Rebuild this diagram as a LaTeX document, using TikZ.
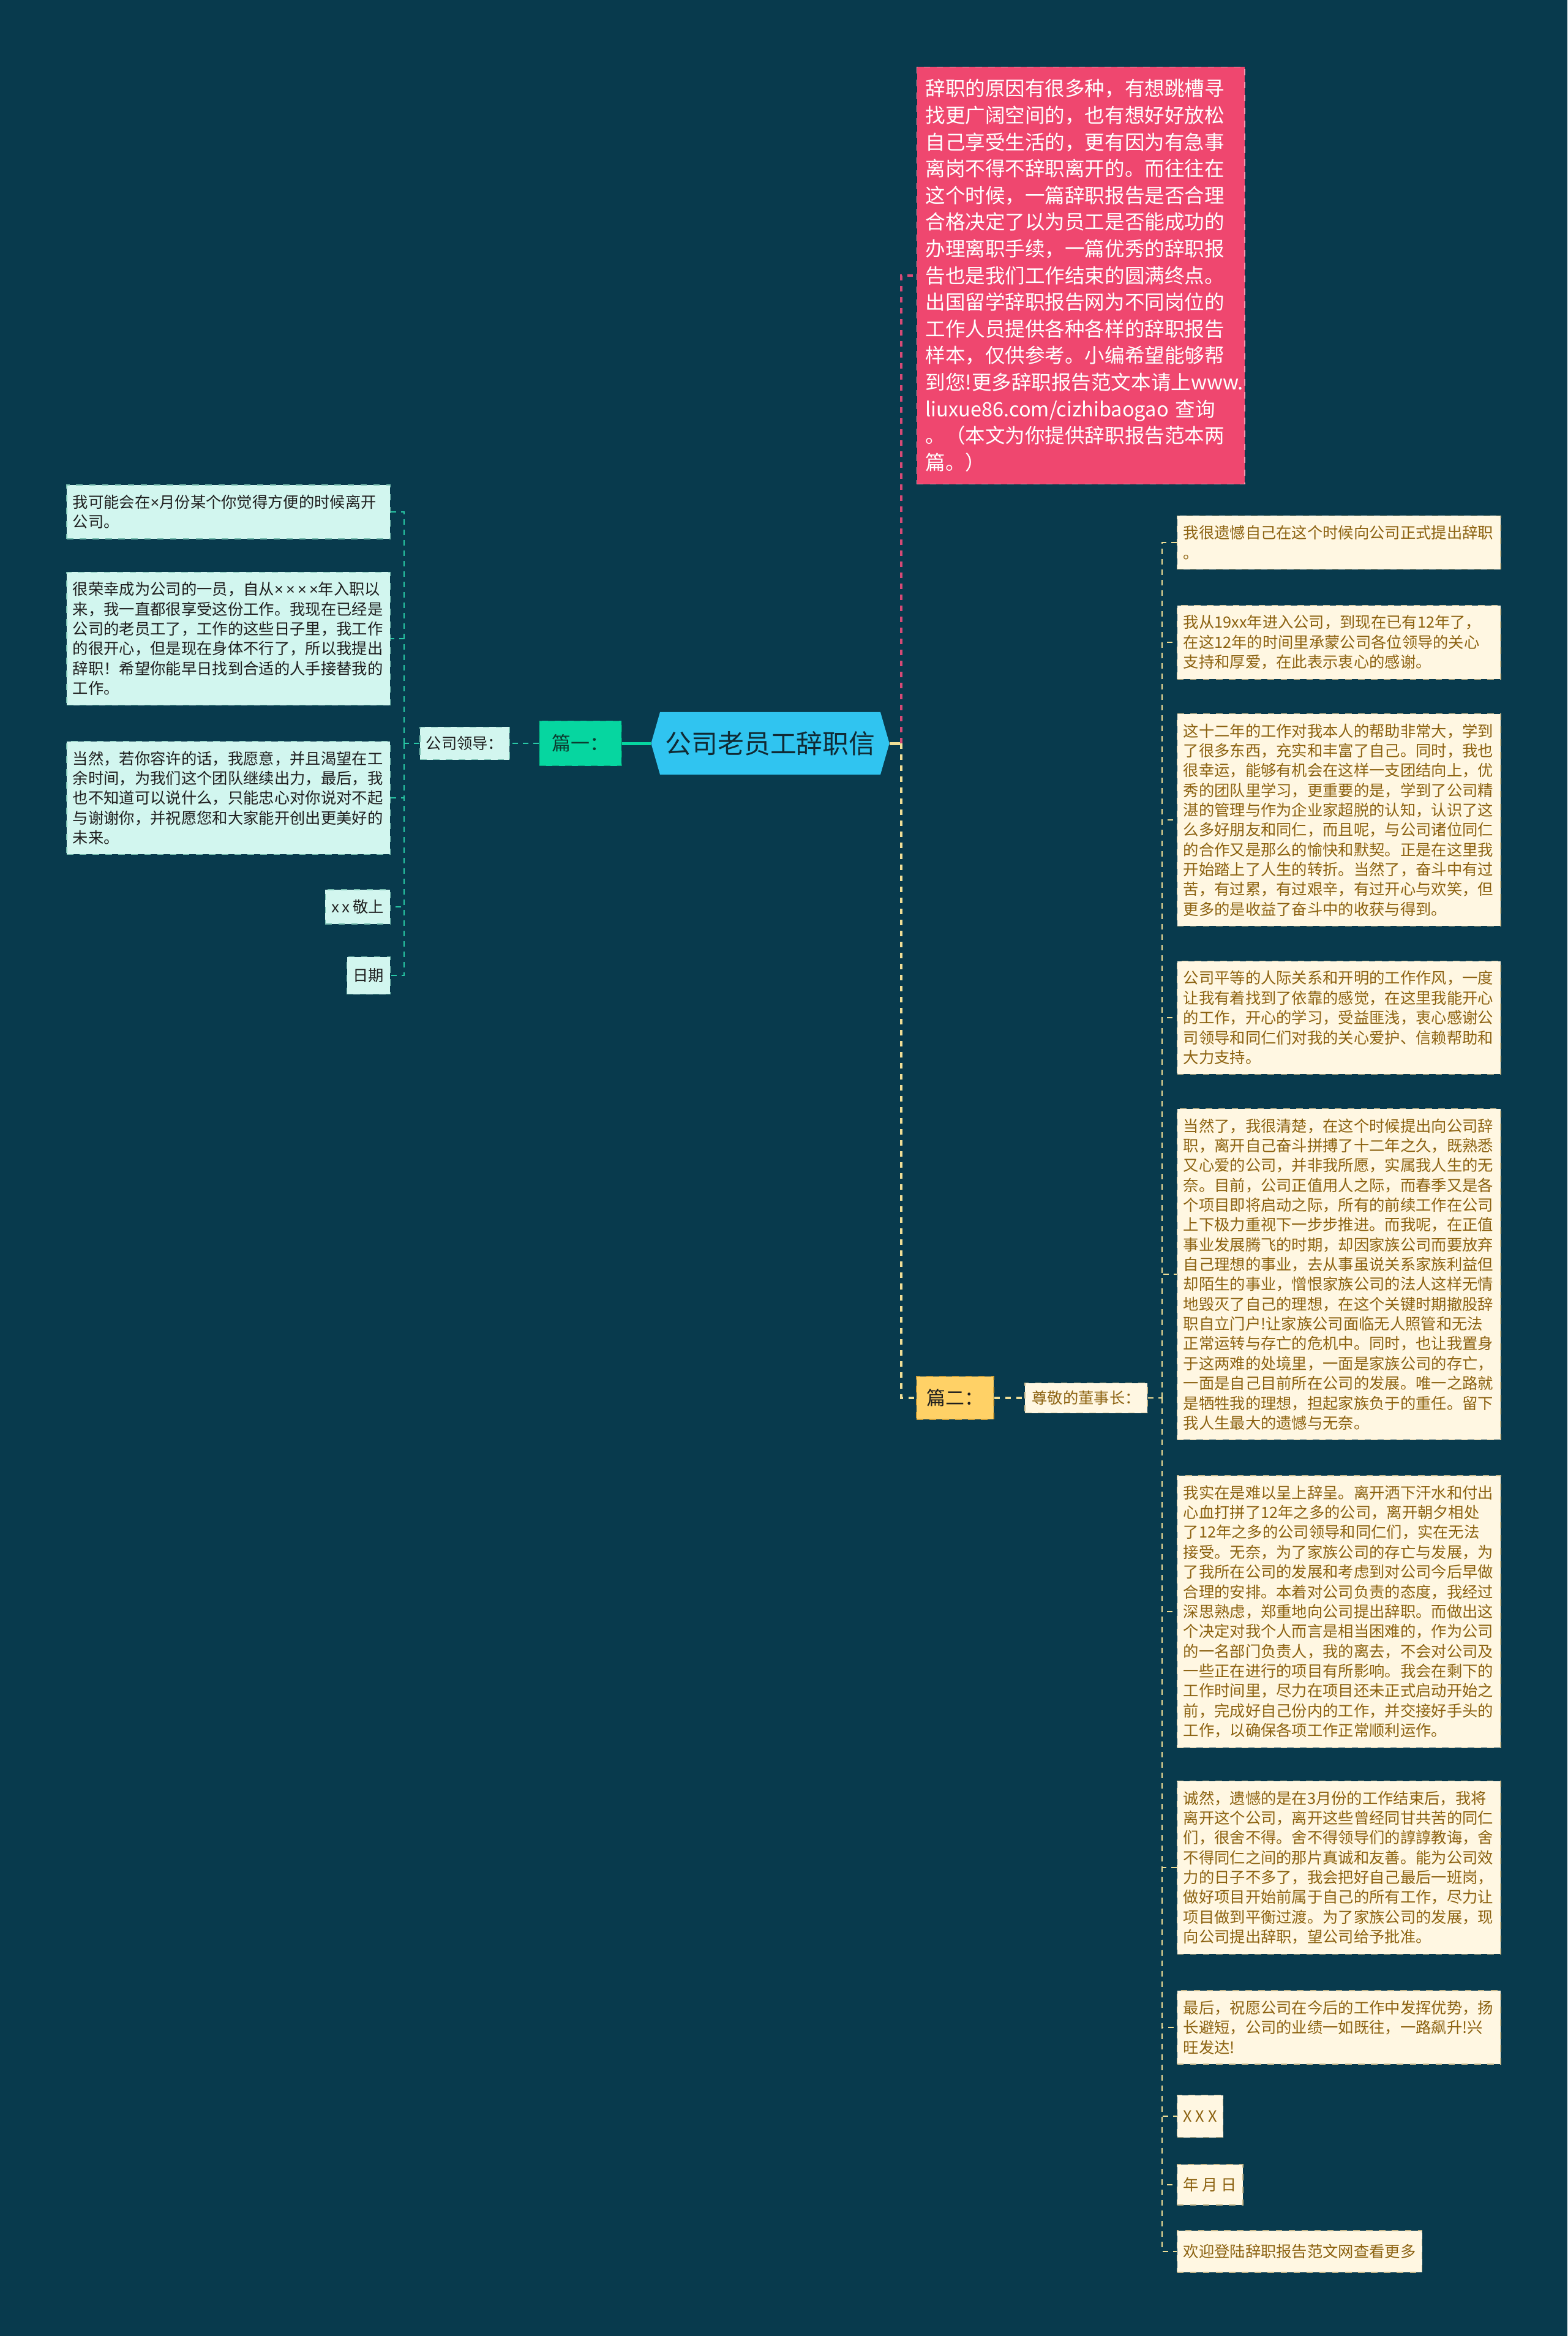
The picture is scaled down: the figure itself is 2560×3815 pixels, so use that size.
\documentclass[tikz,border=0pt]{standalone}
\usepackage{fontspec}
\newfontfamily\cjk{Noto Sans CJK SC}
\newfontfamily\xfont{Liberation Sans}
\usepackage{tikz}
\usetikzlibrary{shapes.symbols}

\definecolor{bgteal}{RGB}{8,58,77}
\definecolor{titleblue}{RGB}{48,196,240}
\definecolor{titletext}{RGB}{16,42,52}
\definecolor{introfill}{RGB}{239,71,111}
\definecolor{introedge}{RGB}{250,150,175}
\definecolor{introline}{RGB}{214,74,118}
\definecolor{onefill}{RGB}{6,214,160}
\definecolor{oneedge}{RGB}{4,160,120}
\definecolor{onetext}{RGB}{12,60,48}
\definecolor{mintfill}{RGB}{210,246,239}
\definecolor{mintedge}{RGB}{120,190,175}
\definecolor{mintline}{RGB}{40,200,165}
\definecolor{twofill}{RGB}{255,209,102}
\definecolor{twoedge}{RGB}{205,160,60}
\definecolor{creamfill}{RGB}{255,247,226}
\definecolor{creamedge}{RGB}{200,185,140}
\definecolor{creamline}{RGB}{240,222,150}
\definecolor{browntext}{RGB}{140,98,16}
\definecolor{darktext}{RGB}{30,30,30}

\tikzset{
  title/.style={signal, signal to=west and east, signal pointer angle=148,
    fill=titleblue, text=titletext, minimum width=3.89cm, minimum height=1.02cm,
    inner sep=0pt, font=\cjk\fontsize{12.2}{14}\selectfont},
  intro/.style={fill=introfill, draw=introedge, dashed, text=white,
    text width=5.07cm, align=left, inner xsep=0.14cm, inner ysep=0.2cm,
    font=\cjk\fontsize{9.25}{12.4}\selectfont},
  partone/.style={fill=onefill, draw=oneedge, dashed, text=onetext,
    minimum width=1.34cm, minimum height=0.73cm, inner sep=0pt,
    font=\cjk\fontsize{8.8}{10}\selectfont},
  parttwo/.style={fill=twofill, draw=twoedge, dashed, text=darktext,
    minimum width=1.26cm, minimum height=0.70cm, inner sep=0pt,
    font=\cjk\fontsize{8.8}{10}\selectfont},
  mintbox/.style={fill=mintfill, draw=mintedge, dashed, text=darktext,
    align=left, inner xsep=0.1cm, inner ysep=0.16cm,
    font=\cjk\fontsize{7.2}{9.2}\selectfont},
  creambox/.style={fill=creamfill, draw=creamedge, dashed, text=browntext,
    align=left, inner xsep=0.1cm, inner ysep=0.16cm,
    font=\cjk\fontsize{7.2}{9.2}\selectfont},
  widebox/.style={text width=5.08cm},
  tealline/.style={draw=mintline, line width=0.025cm, dash pattern=on 0.09cm off 0.08cm},
  pinkline/.style={draw=introline, line width=0.04cm, dash pattern=on 0.09cm off 0.09cm},
  yellowline/.style={draw=creamline, line width=0.04cm, dash pattern=on 0.09cm off 0.09cm},
  thinyellow/.style={draw=creamline, line width=0.025cm, dash pattern=on 0.09cm off 0.08cm},
}

\begin{document}
\begin{tikzpicture}[x=0.01cm,y=-0.01cm]
\useasboundingbox (0,0) rectangle (2560,3815);
\fill[bgteal] (0,0) rectangle (2560,3815);

% root and the two parts
\node[title] (root) at (1258,1214) {公司老员工辞职信};
\node[partone] (p1) at (948,1214) {篇一：};
\node[parttwo] (p2) at (1560,2283) {篇二：};
\coordinate (trunk) at (1472,1214);

% intro note
\node[intro, anchor=west] (intro) at (1497,450) {辞职的原因有很多种，有想跳槽寻\\
找更广阔空间的，也有想好好放松\\
自己享受生活的，更有因为有急事\\
离岗不得不辞职离开的。而往往在\\
这个时候，一篇辞职报告是否合理\\
合格决定了以为员工是否能成功的\\
办理离职手续，一篇优秀的辞职报\\
告也是我们工作结束的圆满终点。\\
出国留学辞职报告网为不同岗位的\\
工作人员提供各种各样的辞职报告\\
样本，仅供参考。小编希望能够帮\\
到您!更多辞职报告范文本请上www.\\
liuxue86.com/cizhibaogao 查询\\
。（本文为你提供辞职报告范本两\\
篇。）};

\draw[draw=creamline, line width=0.05cm] (root.east) -- (trunk);
\draw[pinkline] (trunk) |- (intro.west);
\draw[yellowline] (trunk) |- (p2.west);
\draw[draw=onefill, line width=0.05cm] (p1.east) -- (root.west);

% part one
\node[mintbox, minimum width=1.46cm, minimum height=0.53cm, inner sep=0pt] (boss) at (759,1214) {公司领导：};
\coordinate (ltrunk) at (660,1214);
\draw[tealline] (p1.west) -- (boss.east);
\draw[tealline] (boss.west) -- (ltrunk);

\node[mintbox, widebox, anchor=east] (l1) at (638,836) {我可能会在{\xfont ×}月份某个你觉得方便的时候离开\\
公司。};
\node[mintbox, widebox, anchor=east] (l2) at (638,1043) {很荣幸成为公司的一员，自从{\xfont ×\,×\,×\,×}年入职以\\
来，我一直都很享受这份工作。我现在已经是\\
公司的老员工了，工作的这些日子里，我工作\\
的很开心，但是现在身体不行了，所以我提出\\
辞职！希望你能早日找到合适的人手接替我的\\
工作。};
\node[mintbox, widebox, anchor=east] (l3) at (638,1303) {当然，若你容许的话，我愿意，并且渴望在工\\
余时间，为我们这个团队继续出力，最后，我\\
也不知道可以说什么，只能忠心对你说对不起\\
与谢谢你，并祝愿您和大家能开创出更美好的\\
未来。};
\node[mintbox, anchor=east, minimum height=0.56cm, inner ysep=0pt] (l4) at (638,1481) {{\xfont x\,x} 敬上};
\node[mintbox, anchor=east, minimum height=0.61cm, inner ysep=0pt] (l5) at (638,1593) {日期};

\foreach \i in {1,...,5}
  \draw[tealline] (ltrunk) |- (l\i.east);

% part two
\node[creambox, minimum width=2.0cm, minimum height=0.49cm, inner sep=0pt] (chair) at (1774,2283) {尊敬的董事长：};
\coordinate (rtrunk) at (1898,2283);
\draw[yellowline] (p2.east) -- (chair.west);
\draw[thinyellow] (chair.east) -- (rtrunk);

\node[creambox, widebox, anchor=west] (r1) at (1922,886) {我很遗憾自己在这个时候向公司正式提出辞职\\
。};
\node[creambox, widebox, anchor=west] (r2) at (1922,1049) {我从19xx年进入公司，到现在已有12年了，\\
在这12年的时间里承蒙公司各位领导的关心\\
支持和厚爱，在此表示衷心的感谢。};
\node[creambox, widebox, anchor=west] (r3) at (1922,1339) {这十二年的工作对我本人的帮助非常大，学到\\
了很多东西，充实和丰富了自己。同时，我也\\
很幸运，能够有机会在这样一支团结向上，优\\
秀的团队里学习，更重要的是，学到了公司精\\
湛的管理与作为企业家超脱的认知，认识了这\\
么多好朋友和同仁，而且呢，与公司诸位同仁\\
的合作又是那么的愉快和默契。正是在这里我\\
开始踏上了人生的转折。当然了，奋斗中有过\\
苦，有过累，有过艰辛，有过开心与欢笑，但\\
更多的是收益了奋斗中的收获与得到。};
\node[creambox, widebox, anchor=west] (r4) at (1922,1662) {公司平等的人际关系和开明的工作作风，一度\\
让我有着找到了依靠的感觉，在这里我能开心\\
的工作，开心的学习，受益匪浅，衷心感谢公\\
司领导和同仁们对我的关心爱护、信赖帮助和\\
大力支持。};
\node[creambox, widebox, anchor=west] (r5) at (1922,2081) {当然了，我很清楚，在这个时候提出向公司辞\\
职，离开自己奋斗拼搏了十二年之久，既熟悉\\
又心爱的公司，并非我所愿，实属我人生的无\\
奈。目前，公司正值用人之际，而春季又是各\\
个项目即将启动之际，所有的前续工作在公司\\
上下极力重视下一步步推进。而我呢，在正值\\
事业发展腾飞的时期，却因家族公司而要放弃\\
自己理想的事业，去从事虽说关系家族利益但\\
却陌生的事业，憎恨家族公司的法人这样无情\\
地毁灭了自己的理想，在这个关键时期撤股辞\\
职自立门户!让家族公司面临无人照管和无法\\
正常运转与存亡的危机中。同时，也让我置身\\
于这两难的处境里，一面是家族公司的存亡，\\
一面是自己目前所在公司的发展。唯一之路就\\
是牺牲我的理想，担起家族负于的重任。留下\\
我人生最大的遗憾与无奈。};
\node[creambox, widebox, anchor=west] (r6) at (1922,2632) {我实在是难以呈上辞呈。离开洒下汗水和付出\\
心血打拼了12年之多的公司，离开朝夕相处\\
了12年之多的公司领导和同仁们，实在无法\\
接受。无奈，为了家族公司的存亡与发展，为\\
了我所在公司的发展和考虑到对公司今后早做\\
合理的安排。本着对公司负责的态度，我经过\\
深思熟虑，郑重地向公司提出辞职。而做出这\\
个决定对我个人而言是相当困难的，作为公司\\
的一名部门负责人，我的离去，不会对公司及\\
一些正在进行的项目有所影响。我会在剩下的\\
工作时间里，尽力在项目还未正式启动开始之\\
前，完成好自己份内的工作，并交接好手头的\\
工作，以确保各项工作正常顺利运作。};
\node[creambox, widebox, anchor=west] (r7) at (1922,3050) {诚然，遗憾的是在3月份的工作结束后，我将\\
离开这个公司，离开这些曾经同甘共苦的同仁\\
们，很舍不得。舍不得领导们的諄諄教诲，舍\\
不得同仁之间的那片真诚和友善。能为公司效\\
力的日子不多了，我会把好自己最后一班岗，\\
做好项目开始前属于自己的所有工作，尽力让\\
项目做到平衡过渡。为了家族公司的发展，现\\
向公司提出辞职，望公司给予批准。};
\node[creambox, widebox, anchor=west] (r8) at (1922,3311) {最后，祝愿公司在今后的工作中发挥优势，扬\\
长避短，公司的业绩一如既往，一路飙升!兴\\
旺发达!};
\node[creambox, anchor=west, minimum height=0.69cm, inner ysep=0pt] (r9) at (1922,3456) {X X X};
\node[creambox, anchor=west, minimum height=0.66cm, inner ysep=0pt] (r10) at (1922,3568) {年 月 日};
\node[creambox, anchor=west, minimum height=0.68cm, inner ysep=0pt] (r11) at (1922,3677) {欢迎登陆辞职报告范文网查看更多};

\foreach \i in {1,...,11}
  \draw[thinyellow] (rtrunk) |- (r\i.west);
\end{tikzpicture}
\end{document}
